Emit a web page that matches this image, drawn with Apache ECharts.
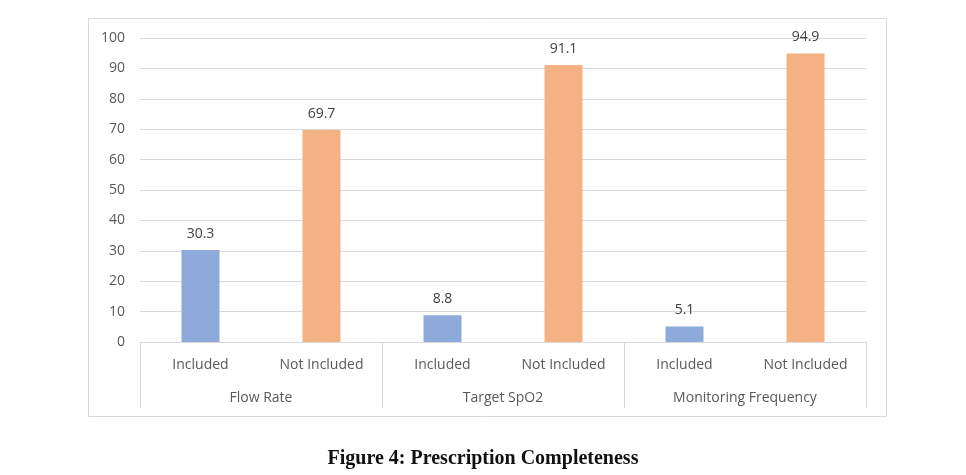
<!DOCTYPE html>
<html>
<head>
<meta charset="utf-8">
<script src="https://cdn.jsdelivr.net/npm/echarts@6/dist/echarts.min.js"></script>
<style>
html,body{margin:0;padding:0;background:#fff;}
#c{width:966px;height:475px;}
</style>
</head>
<body>
<div id="c"></div>
<script>
const innerCategories = ['Included','Not Included','Included','Not Included','Included','Not Included'];
const groupCategories = ['Flow Rate','Target SpO2','Monitoring Frequency'];
const values = [30.3, 69.7, 8.8, 91.1, 5.1, 94.9];
const yTicks = [0,10,20,30,40,50,60,70,80,90,100];
const caption = 'Figure 4: Prescription Completeness';

const colors = ['#8eaadb','#f4b183'];
const chart = echarts.init(document.getElementById('c'));
chart.setOption({
  animation:false,
  backgroundColor:'#fff',
  graphic:[
    {type:'rect', shape:{x:88.5,y:18.5,width:798,height:398}, style:{fill:'none',stroke:'#d9d9d9',lineWidth:1}, z:-1},
    {type:'text', left:'center', top:449, style:{text:caption, font:'bold 20px "Liberation Serif", serif', fill:'#111'}}
  ],
  grid:{left:140,right:100,top:38,bottom:133},
  yAxis:{type:'value',min:yTicks[0],max:yTicks[yTicks.length-1],interval:10,
    axisLine:{show:false},axisTick:{show:false},
    axisLabel:{color:'#595959',fontSize:14,margin:15,fontFamily:'Open Sans'},
    splitLine:{lineStyle:{color:'#d9d9d9',width:1}}},
  xAxis:[
    {type:'category',data:innerCategories,position:'bottom',
      axisLine:{lineStyle:{color:'#d9d9d9'}},axisTick:{show:false},
      axisLabel:{color:'#595959',fontSize:14,margin:16,interval:0,fontFamily:'Open Sans'}},
    {type:'category',data:groupCategories,position:'bottom',
      axisLine:{show:false},
      axisTick:{show:true,length:66,lineStyle:{color:'#d9d9d9'}},
      axisLabel:{color:'#595959',fontSize:14,margin:49,interval:0,fontFamily:'Open Sans'}}
  ],
  series:[{
    type:'bar',xAxisIndex:0,barWidth:38,
    data:values.map((v,i)=>({value:v,itemStyle:{color:colors[i%2]}})),
    label:{show:true,position:'top',distance:9,color:'#404040',fontSize:14,fontFamily:'Open Sans'}
  }]
});
</script>
</body>
</html>
